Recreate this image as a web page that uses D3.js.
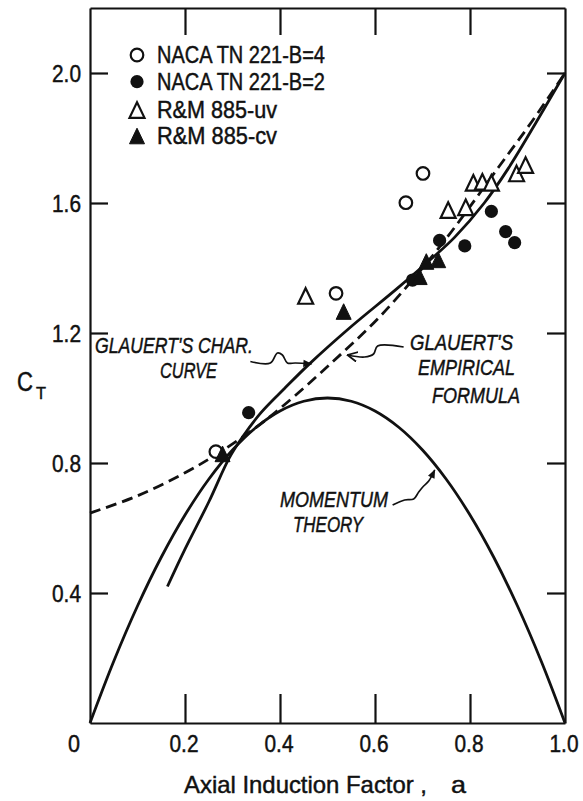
<!DOCTYPE html>
<html><head><meta charset="utf-8">
<script src="https://cdn.jsdelivr.net/npm/d3@7"></script>
<style>body{margin:0;background:#fff}</style>
</head><body>
<svg id="c" width="583" height="801"></svg>
<script>
// ---- data ----
const xTickValues = [0.2, 0.4, 0.6, 0.8];
const xLabelValues = [0, 0.2, 0.4, 0.6, 0.8, 1.0];
const xTickLabels = ["0", "0.2", "0.4", "0.6", "0.8", "1.0"];
const yTickValues = [0.4, 0.8, 1.2, 1.6, 2.0];
const yTickLabels = ["0.4", "0.8", "1.2", "1.6", "2.0"];

const momentumA  = [0,0.05,0.1,0.15,0.2,0.25,0.3,0.35,0.4,0.45,0.5,0.55,0.6,0.65,0.7,0.75,0.8,0.85,0.9,0.95,1.0];
const momentumCT = [0,0.19,0.36,0.51,0.64,0.75,0.84,0.91,0.96,0.99,1.0,0.99,0.96,0.91,0.84,0.75,0.64,0.51,0.36,0.19,0];

const charA  = [0.163,0.2,0.25,0.293,0.321,0.36,0.41,0.462,0.55,0.645,0.72,0.768,0.83,0.88,0.94,1.0];
const charCT = [0.42,0.535,0.68,0.815,0.88,0.955,1.03,1.105,1.22,1.335,1.43,1.495,1.60,1.705,1.85,2.0];

const empA  = [0,0.1,0.2,0.27,0.35,0.41,0.51,0.61,0.7,0.76,0.86,0.93,1.0];
const empCT = [0.646,0.699,0.77,0.83,0.91,0.98,1.11,1.25,1.40,1.51,1.71,1.85,2.0];

const b4A  = [0.265,0.518,0.665,0.701];
const b4CT = [0.835,1.322,1.601,1.691];
const b2A  = [0.334,0.679,0.736,0.789,0.845,0.875,0.894];
const b2CT = [0.955,1.363,1.485,1.468,1.574,1.512,1.478];
const uvA  = [0.454,0.754,0.791,0.807,0.826,0.845,0.898,0.917];
const uvCT = [1.314,1.578,1.587,1.662,1.665,1.662,1.691,1.717];
const cvA  = [0.279,0.534,0.694,0.708,0.733];
const cvCT = [0.828,1.266,1.373,1.42,1.425];

const legendLabels = ["NACA TN 221-B=4","NACA TN 221-B=2","R&M 885-uv","R&M 885-cv"];
const legendMarks  = ["openCircle","filledCircle","openTriangle","filledTriangle"];

// ---- drawing ----
const svg = d3.select("#c");
svg.append("rect").attr("width",583).attr("height",801).attr("fill","#fff");
const ink = "#111";
const FONT = "'Liberation Sans Narrow','Liberation Sans',Arial,sans-serif";

const x = d3.scaleLinear().domain([0,1]).range([90,565]);
const y = d3.scaleLinear().domain([0,2.2]).range([723,8]);

function axisStyle(g){
  g.selectAll("path.domain").attr("stroke",ink).attr("stroke-width",2.2);
  g.selectAll(".tick line").attr("stroke",ink).attr("stroke-width",2.2);
  g.selectAll(".tick text").remove();
}
svg.append("g").attr("transform","translate(0,723)")
  .call(d3.axisBottom(x).tickValues(xTickValues).tickSizeInner(-29).tickSizeOuter(0).tickFormat(""))
  .call(axisStyle);
svg.append("g").attr("transform","translate(0,8)")
  .call(d3.axisTop(x).tickValues(xTickValues).tickSizeInner(-27).tickSizeOuter(0).tickFormat(""))
  .call(axisStyle);
svg.append("g").attr("transform","translate(90,0)")
  .call(d3.axisLeft(y).tickValues(yTickValues).tickSizeInner(-18).tickSizeOuter(0).tickFormat(""))
  .call(axisStyle);
svg.append("g").attr("transform","translate(565,0)")
  .call(d3.axisRight(y).tickValues(yTickValues).tickSizeInner(-18).tickSizeOuter(0).tickFormat(""))
  .call(axisStyle);

function txt(s, px, py, size, width, opts={}){
  const t = svg.append("text").text(s).attr("x",px).attr("y",py)
    .attr("font-family",FONT).attr("font-size",size).attr("fill",ink)
    .attr("stroke",ink).attr("stroke-width",0.45);
  if(width){ t.attr("textLength",width).attr("lengthAdjust","spacingAndGlyphs"); }
  if(opts.anchor) t.attr("text-anchor",opts.anchor);
  if(opts.italic) t.attr("font-style","italic");
  return t;
}

// tick labels
xLabelValues.forEach((v,i)=>{
  const s = xTickLabels[i];
  const w = s.length===1 ? 12 : 29;
  const cx = v===0 ? x(v)-16 : x(v)-1;
  txt(s, cx - w/2, 752, 23, w);
});
yTickValues.forEach((v,i)=>{
  txt(yTickLabels[i], 81-29, y(v)+9, 23, 29);
});

// axis titles
txt("Axial Induction Factor ,", 184, 793, 24, 243);
txt("a", 451, 793, 24, 15);
txt("C", 17, 391, 27, 16);
txt("T", 36, 399, 17, 10);

// curves
const line = d3.line().x(d=>x(d[0])).y(d=>y(d[1])).curve(d3.curveCatmullRom.alpha(0.5));
const zip = (a,b)=>a.map((v,i)=>[v,b[i]]);
svg.append("path").attr("d",line(zip(momentumA,momentumCT)))
  .attr("fill","none").attr("stroke",ink).attr("stroke-width",2.8);
svg.append("path").attr("d",line(zip(charA,charCT)))
  .attr("fill","none").attr("stroke",ink).attr("stroke-width",2.8);
svg.append("path").attr("d",line(zip(empA,empCT)))
  .attr("fill","none").attr("stroke",ink).attr("stroke-width",2.8).attr("stroke-dasharray","11,6");

// markers
function mark(g, type, px, py){
  if(type==="openCircle"){
    g.append("circle").attr("cx",px).attr("cy",py).attr("r",6.3).attr("fill","#fff").attr("stroke",ink).attr("stroke-width",2.2);
  } else if(type==="filledCircle"){
    g.append("circle").attr("cx",px).attr("cy",py).attr("r",6.6).attr("fill",ink);
  } else {
    const hw=7.5, hh=7.8;
    const p = d3.path(); p.moveTo(px,py-hh); p.lineTo(px+hw,py+hh); p.lineTo(px-hw,py+hh); p.closePath();
    const open = type==="openTriangle";
    g.append("path").attr("d",p.toString()).attr("fill",open?"#fff":ink)
      .attr("stroke",ink).attr("stroke-width",open?2.2:1).attr("stroke-linejoin","miter");
  }
}
const pts = svg.append("g");
zip(b4A,b4CT).forEach(d=>mark(pts,"openCircle",x(d[0]),y(d[1])));
zip(b2A,b2CT).forEach(d=>mark(pts,"filledCircle",x(d[0]),y(d[1])));
zip(uvA,uvCT).forEach(d=>mark(pts,"openTriangle",x(d[0]),y(d[1])));
zip(cvA,cvCT).forEach(d=>mark(pts,"filledTriangle",x(d[0]),y(d[1])));

// legend
const legY = [55, 81.7, 110, 136];
const legW = [168, 168, 120, 120];
legendLabels.forEach((s,i)=>{
  mark(svg, legendMarks[i], 137, legY[i]);
  txt(s, 157, legY[i]+8, 23, legW[i]);
});

// annotations
txt("GLAUERT'S CHAR.", 95, 353, 22, 158, {italic:true});
txt("CURVE", 160, 378, 22, 57, {italic:true});
txt("GLAUERT'S", 410, 350, 22, 103, {italic:true});
txt("EMPIRICAL", 418, 375, 22, 97, {italic:true});
txt("FORMULA", 432, 403, 22, 88, {italic:true});
txt("MOMENTUM", 280, 507, 22, 108, {italic:true});
txt("THEORY", 293, 532, 22, 70, {italic:true});

// leader lines (in data units)
const defs = svg.append("defs");
defs.append("marker").attr("id","arrF").attr("viewBox","0 0 10 10").attr("refX",9).attr("refY",5)
  .attr("markerWidth",11).attr("markerHeight",9).attr("markerUnits","userSpaceOnUse").attr("orient","auto")
  .append("path").attr("d","M0,1 L10,5 L0,9 Z").attr("fill",ink);
defs.append("marker").attr("id","arrO").attr("viewBox","0 0 10 10").attr("refX",9).attr("refY",5)
  .attr("markerWidth",11).attr("markerHeight",11).attr("markerUnits","userSpaceOnUse").attr("orient","auto")
  .append("path").attr("d","M0,0.5 L9,5 L0,9.5").attr("fill","none").attr("stroke",ink).attr("stroke-width",1.6);

const charLeader = [[0.3376,1.1123],[0.3797,1.1077],[0.3945,1.1385],[0.4051,1.1323],[0.4156,1.1077],[0.4325,1.1077],[0.4662,1.1046]];
const empLeader  = [[0.6603,1.1569],[0.6055,1.16],[0.597,1.1354],[0.5781,1.1262],[0.5422,1.1323]];
const momLeader  = [[0.6371,0.6708],[0.6624,0.6862],[0.6814,0.6892],[0.692,0.7108],[0.7025,0.7292],[0.7131,0.7446],[0.7257,0.7785]];
const lead = d3.line().x(d=>x(d[0])).y(d=>y(d[1])).curve(d3.curveCatmullRom.alpha(0.5));
svg.append("path").attr("d",lead(charLeader)).attr("fill","none").attr("stroke",ink).attr("stroke-width",1.7).attr("marker-end","url(#arrF)");
svg.append("path").attr("d",lead(empLeader)).attr("fill","none").attr("stroke",ink).attr("stroke-width",1.7).attr("marker-end","url(#arrO)");
svg.append("path").attr("d",lead(momLeader)).attr("fill","none").attr("stroke",ink).attr("stroke-width",1.7).attr("marker-end","url(#arrF)");
</script>
</body></html>
